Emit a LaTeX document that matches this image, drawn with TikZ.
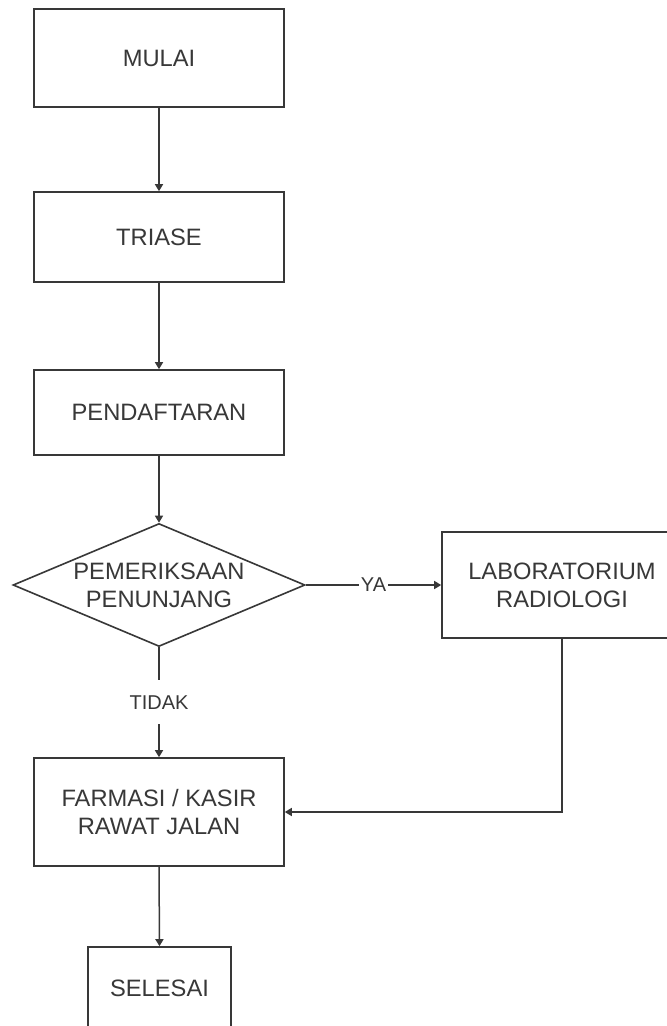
\documentclass[tikz,border=0pt]{standalone}
\usepackage{fontspec}
\setmainfont{Liberation Sans}
\usetikzlibrary{shapes.geometric,arrows.meta}
\definecolor{ink}{HTML}{383838}
\tikzset{
  x=1pt,y=-1pt,
  box/.style={draw=ink,line width=1.6pt,rectangle,inner sep=0pt,align=center,
    text=ink,font=\fontsize{23.7}{28}\selectfont},
  decision/.style={draw=ink,line width=1.6pt,diamond,inner sep=0pt,align=center,
    text=ink,font=\fontsize{23.7}{28}\selectfont,
    minimum width=292pt,minimum height=123pt,aspect=2.37},
  conn/.style={draw=ink,line width=1.5pt,-{Triangle[length=7pt,width=8pt]}},
  lbl/.style={fill=white,text=ink,inner xsep=2pt,inner ysep=2pt,
    font=\fontsize{20}{24}\selectfont},
}
\begin{document}
\begin{tikzpicture}
\useasboundingbox (0,0) rectangle (667,1026);
\fill[white] (0,0) rectangle (667,1026);
\clip (0,0) rectangle (667,1026);

\node[box,minimum width=250pt,minimum height=98pt] (mulai) at (159,58) {MULAI};
\node[box,minimum width=250pt,minimum height=90pt] (triase) at (159,237) {TRIASE};
\node[box,minimum width=250pt,minimum height=85pt] (daftar) at (159,412.5) {PENDAFTARAN};
\node[decision] (periksa) at (159,585) {PEMERIKSAAN\\PENUNJANG};
\node[box,minimum width=240pt,minimum height=106pt] (lab) at (562,585) {LABORATORIUM\\RADIOLOGI};
\node[box,minimum width=250pt,minimum height=108pt] (farmasi) at (159,812) {FARMASI / KASIR\\RAWAT JALAN};
\node[box,minimum width=143pt,minimum height=83pt] (selesai) at (159.5,988.5) {SELESAI};

\draw[conn] (mulai.south) -- (triase.north);
\draw[conn] (triase.south) -- (daftar.north);
\draw[conn] (daftar.south) -- (periksa.north);
\draw[conn] (periksa.east) -- node[lbl] (ya) {YA} (lab.west);
\draw[conn] (periksa.south) -- node[lbl,minimum height=44pt] (tidak) {TIDAK} (farmasi.north);
\draw[conn] (lab.south) |- (farmasi.east);
\draw[conn] (farmasi.south) -- (selesai.north);
\end{tikzpicture}
\end{document}
